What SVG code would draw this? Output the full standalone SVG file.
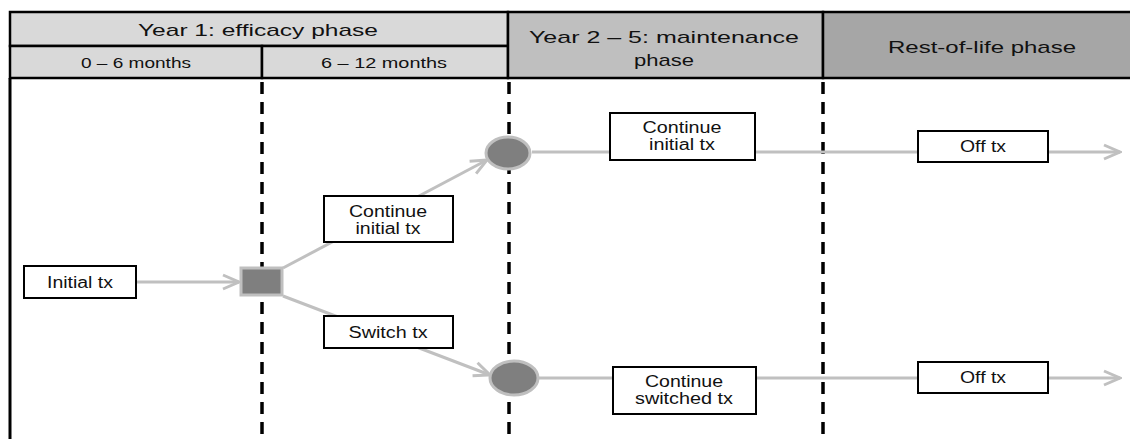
<svg xmlns="http://www.w3.org/2000/svg" width="1130" height="439" viewBox="0 0 1130 439">
  <style>
    .hdr { stroke: #000; stroke-width: 2.5; }
    .hl { font-family: "Liberation Sans", Arial, sans-serif; font-size: 17px; fill: #111; text-anchor: middle; }
    .hs { font-family: "Liberation Sans", Arial, sans-serif; font-size: 15px; fill: #111; text-anchor: middle; }
    .box { fill: #fff; stroke: #000; stroke-width: 2; }
    .lbl { font-family: "Liberation Sans", Arial, sans-serif; font-size: 16px; fill: #111; text-anchor: middle; }
    .flow { fill: none; stroke: #c0c0c0; stroke-width: 3; }
    .divider { stroke: #000; stroke-width: 3.5; stroke-dasharray: 12 8; }
    .state { fill: #7f7f7f; stroke: #bfbfbf; stroke-width: 3; }
  </style>
  <defs>
    <marker id="arrow" viewBox="0 0 20 20" refX="18" refY="10" markerWidth="20" markerHeight="20" markerUnits="userSpaceOnUse" orient="auto">
      <polyline points="2,3 18,10 2,17" fill="none" stroke="#c0c0c0" stroke-width="3" stroke-linejoin="miter"/>
    </marker>
  </defs>

  <rect width="1130" height="439" fill="#fff"/>

  <!-- Phase header -->
  <g id="header">
    <rect class="hdr" x="10" y="12" width="498" height="34" fill="#d9d9d9"/>
    <rect class="hdr" x="10" y="46" width="252" height="32" fill="#d9d9d9"/>
    <rect class="hdr" x="262" y="46" width="246" height="32" fill="#d9d9d9"/>
    <rect class="hdr" x="508" y="12" width="315" height="66" fill="#bfbfbf"/>
    <rect class="hdr" x="823" y="12" width="312" height="66" fill="#a6a6a6"/>
    <text class="hl" x="258" y="36" textLength="240" lengthAdjust="spacingAndGlyphs">Year 1: efficacy phase</text>
    <text class="hs" x="136" y="68" textLength="110" lengthAdjust="spacingAndGlyphs">0 – 6 months</text>
    <text class="hs" x="384" y="68" textLength="126" lengthAdjust="spacingAndGlyphs">6 – 12 months</text>
    <text class="hl" x="664" y="43" textLength="270" lengthAdjust="spacingAndGlyphs">Year 2 – 5: maintenance</text>
    <text class="hl" x="664" y="66" textLength="60" lengthAdjust="spacingAndGlyphs">phase</text>
    <text class="hl" x="982" y="53" textLength="188" lengthAdjust="spacingAndGlyphs">Rest-of-life phase</text>
  </g>

  <!-- Timeline boundaries -->
  <g id="dividers">
    <line x1="10" y1="78" x2="10" y2="439" stroke="#000" stroke-width="3"/>
    <line class="divider" x1="262" y1="82" x2="262" y2="439"/>
    <line class="divider" x1="509" y1="82" x2="509" y2="439"/>
    <line class="divider" x1="823" y1="82" x2="823" y2="439"/>
  </g>

  <!-- Connectors -->
  <g id="connectors">
    <line class="flow" x1="136" y1="282" x2="239" y2="282" marker-end="url(#arrow)"/>
    <line class="flow" x1="283" y1="268" x2="487" y2="160" marker-end="url(#arrow)"/>
    <line class="flow" x1="283" y1="296" x2="490" y2="375" marker-end="url(#arrow)"/>
    <line class="flow" x1="532" y1="152" x2="1120" y2="152" marker-end="url(#arrow)"/>
    <line class="flow" x1="539" y1="378" x2="1120" y2="378" marker-end="url(#arrow)"/>
  </g>

  <!-- Decision and chance nodes -->
  <g id="decision">
    <rect class="state" x="241" y="268" width="41" height="27"/>
  </g>
  <g id="chance-upper">
    <ellipse class="state" cx="508" cy="153" rx="22" ry="16"/>
  </g>
  <g id="chance-lower">
    <ellipse class="state" cx="514" cy="378" rx="24" ry="17"/>
  </g>

  <!-- Treatment states -->
  <g id="initial">
    <rect class="box" x="24" y="266" width="112" height="32"/>
    <text class="lbl" x="80" y="288" textLength="66" lengthAdjust="spacingAndGlyphs">Initial tx</text>
  </g>
  <g id="continue-initial-y1">
    <rect class="box" x="324" y="196" width="129" height="46"/>
    <text class="lbl" x="388" y="217" textLength="78" lengthAdjust="spacingAndGlyphs">Continue</text>
    <text class="lbl" x="388" y="234" textLength="65" lengthAdjust="spacingAndGlyphs">initial tx</text>
  </g>
  <g id="switch">
    <rect class="box" x="324" y="316" width="129" height="32"/>
    <text class="lbl" x="388" y="338" textLength="79" lengthAdjust="spacingAndGlyphs">Switch tx</text>
  </g>
  <g id="continue-initial-y2">
    <rect class="box" x="610" y="113" width="145" height="47"/>
    <text class="lbl" x="682" y="133" textLength="79" lengthAdjust="spacingAndGlyphs">Continue</text>
    <text class="lbl" x="682" y="150" textLength="66" lengthAdjust="spacingAndGlyphs">initial tx</text>
  </g>
  <g id="continue-switched">
    <rect class="box" x="613" y="367" width="143" height="47"/>
    <text class="lbl" x="684" y="387" textLength="78" lengthAdjust="spacingAndGlyphs">Continue</text>
    <text class="lbl" x="684" y="404" textLength="98" lengthAdjust="spacingAndGlyphs">switched tx</text>
  </g>
  <g id="off-upper">
    <rect class="box" x="918" y="131" width="130" height="31"/>
    <text class="lbl" x="983" y="152" textLength="46" lengthAdjust="spacingAndGlyphs">Off tx</text>
  </g>
  <g id="off-lower">
    <rect class="box" x="918" y="362" width="130" height="31"/>
    <text class="lbl" x="983" y="383" textLength="46" lengthAdjust="spacingAndGlyphs">Off tx</text>
  </g>
</svg>
